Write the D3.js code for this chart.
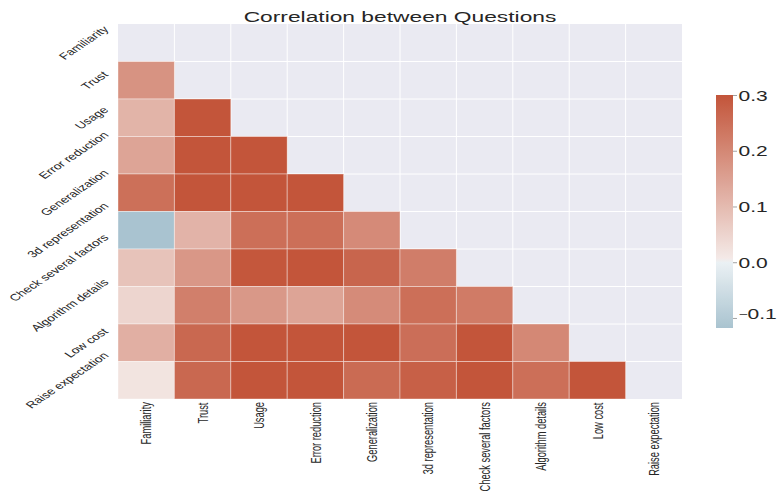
<!DOCTYPE html>
<html>
<head>
<meta charset="utf-8">
<script src="https://cdn.jsdelivr.net/npm/d3@7/dist/d3.min.js"></script>
<style>
  body { margin: 0; background: #ffffff; }
  svg { display: block; }
  text { font-family: "Liberation Sans", Arial, sans-serif; fill: #262626; }
</style>
</head>
<body>
<svg id="chart" width="778" height="493"></svg>
<script>
// Survey questions (rows and columns of the correlation matrix)
const questions = ["Familiarity", "Trust", "Usage", "Error reduction", "Generalization",
  "3d representation", "Check several factors", "Algorithm details", "Low cost", "Raise expectation"];

// Lower triangle: each row holds the correlations with the preceding questions
const rowTrust          = [0.178];
const rowUsage          = [0.113, 0.30];
const rowErrorReduction = [0.144, 0.30, 0.30];
const rowGeneralization = [0.247, 0.30, 0.30, 0.30];
const row3dRepresent    = [-0.118, 0.114, 0.249, 0.249, 0.195];
const rowCheckFactors   = [0.083, 0.170, 0.296, 0.30, 0.268, 0.221];
const rowAlgorithm      = [0.047, 0.217, 0.168, 0.144, 0.193, 0.249, 0.225];
const rowLowCost        = [0.122, 0.263, 0.30, 0.30, 0.30, 0.250, 0.30, 0.200];
const rowRaiseExpect    = [0.018, 0.263, 0.30, 0.30, 0.257, 0.278, 0.30, 0.249, 0.30];

const lowerRows = [[], rowTrust, rowUsage, rowErrorReduction, rowGeneralization,
  row3dRepresent, rowCheckFactors, rowAlgorithm, rowLowCost, rowRaiseExpect];

// Colour bar settings
const vMin = -0.118, vMax = 0.3, vCenter = 0;
const colorbarTicks = [-0.1, 0.0, 0.1, 0.2, 0.3];

const title = "Correlation between Questions";

// ---- build cell table ----
const cells = [];
lowerRows.forEach((vals, i) => vals.forEach((v, j) => cells.push({ row: questions[i], col: questions[j], value: v })));

// ---- diverging palette (blue -> light grey -> red), centred on zero ----
const blueEnd = d3.rgb(68, 125, 152), blueLight = d3.rgb(235, 241, 244);
const mid = d3.rgb(242, 242, 242);
const redLight = d3.rgb(245, 237, 235), redEnd = d3.rgb(195, 85, 58);
const span = Math.max(vMax - vCenter, vCenter - vMin);
function colorOf(v) {
  const c = Math.max(vMin, Math.min(vMax, v));
  const t = (c - vCenter) / span; // -1..1
  if (Math.abs(t) < 1e-6) return mid.formatHex();
  if (t < 0) return d3.interpolateRgb(blueLight, blueEnd)(-t);
  return d3.interpolateRgb(redLight, redEnd)(t);
}

const SX = 1.48; // horizontal stretch applied to all text
const svg = d3.select("#chart");

const plot = { left: 118, right: 682, top: 24, bottom: 399 };
const x = d3.scaleBand().domain(questions).range([plot.left, plot.right]);
const y = d3.scaleBand().domain(questions).range([plot.top, plot.bottom]);

// axes background
svg.append("rect")
  .attr("x", plot.left).attr("y", plot.top)
  .attr("width", plot.right - plot.left).attr("height", plot.bottom - plot.top)
  .attr("fill", "#EAEAF2");

// white grid along cell boundaries
const grid = svg.append("g").attr("stroke", "#ffffff").attr("stroke-width", 1);
questions.slice(1).forEach(q => {
  grid.append("line").attr("x1", x(q)).attr("x2", x(q)).attr("y1", plot.top).attr("y2", plot.bottom);
  grid.append("line").attr("y1", y(q)).attr("y2", y(q)).attr("x1", plot.left).attr("x2", plot.right);
});

// heatmap cells
svg.append("g").selectAll("rect").data(cells).join("rect")
  .attr("x", d => x(d.col)).attr("y", d => y(d.row))
  .attr("width", x.bandwidth()).attr("height", y.bandwidth())
  .attr("fill", d => colorOf(d.value))
  .attr("stroke", "rgba(255,255,255,0.38)").attr("stroke-width", 1);

// title
svg.append("text")
  .attr("transform", `translate(${(plot.left + plot.right) / 2},22) scale(${SX},1)`)
  .attr("text-anchor", "middle").attr("font-size", 15.4)
  .text(title);

// y axis labels (rotated 45°)
const yAxis = svg.append("g").attr("transform", `translate(${plot.left},0)`)
  .call(d3.axisLeft(y).tickSize(0).tickPadding(0));
yAxis.select(".domain").remove();
yAxis.selectAll(".tick text").each(function (q) {
  const t = d3.select(this).attr("x", 0).attr("y", 0).attr("dy", 0)
    .attr("text-anchor", "end").attr("font-size", 9.4).attr("fill", "#262626")
    .attr("font-family", "Liberation Sans, Arial, sans-serif");
  t.attr("transform", `scale(${SX},1) rotate(-45)`);
  const r = this.getBoundingClientRect();
  const dx = 112 - r.right;
  const dy = (y(q) + y.bandwidth() / 2) - (r.top + r.bottom) / 2;
  t.attr("transform", `translate(${dx},${dy}) scale(${SX},1) rotate(-45)`);
});

// x axis labels (vertical)
const xAxis = svg.append("g").attr("transform", `translate(0,${plot.bottom})`)
  .call(d3.axisBottom(x).tickSize(0).tickPadding(0));
xAxis.select(".domain").remove();
xAxis.selectAll(".tick text").each(function (q) {
  const t = d3.select(this).attr("x", 0).attr("y", 0).attr("dy", 0)
    .attr("text-anchor", "end").attr("font-size", 9.3).attr("fill", "#262626")
    .attr("font-family", "Liberation Sans, Arial, sans-serif");
  t.attr("transform", `scale(${SX},1) rotate(-90)`);
  const r = this.getBoundingClientRect();
  const dx = (x(q) + x.bandwidth() / 2) - (r.left + r.right) / 2;
  const dy = 402 - r.top;
  t.attr("transform", `translate(${dx},${dy}) scale(${SX},1) rotate(-90)`);
});

// colour bar
const cb = { x: 716, w: 17, top: 95, bottom: 328 };
const cScale = d3.scaleLinear().domain([vMin, vMax]).range([cb.bottom, cb.top]);
const grad = svg.append("defs").append("linearGradient")
  .attr("id", "cbGrad").attr("x1", 0).attr("x2", 0).attr("y1", 1).attr("y2", 0);
d3.range(0, 1.0001, 0.02).forEach(f => {
  grad.append("stop").attr("offset", f).attr("stop-color", colorOf(vMin + f * (vMax - vMin)));
});
svg.append("rect").attr("x", cb.x).attr("y", cb.top).attr("width", cb.w)
  .attr("height", cb.bottom - cb.top).attr("fill", "url(#cbGrad)");

const fmt = d3.format(".1f");
const cAxis = svg.append("g").attr("transform", `translate(${cb.x + cb.w},0)`)
  .call(d3.axisRight(cScale).tickValues(colorbarTicks).tickSize(4).tickFormat(fmt));
cAxis.select(".domain").remove();
cAxis.selectAll(".tick line").attr("stroke", "#8a8a8a").attr("stroke-width", 0.8);
cAxis.selectAll(".tick text")
  .attr("x", 0).attr("dy", "0.36em").attr("text-anchor", "start")
  .attr("font-size", 14.2).attr("fill", "#262626")
  .attr("font-family", "Liberation Sans, Arial, sans-serif")
  .attr("transform", `translate(5.5,0) scale(${SX},1)`)
  .each(function (d) {
    // narrower minus sign so negative labels fit beside the bar
    if (d < 0) {
      const s = fmt(d);
      const t = d3.select(this).text("");
      t.append("tspan").attr("font-size", 10.5).attr("dy", "-0.05em").text(s[0]);
      t.append("tspan").attr("dy", "0.05em").text(s.slice(1));
    }
  });
</script>
</body>
</html>
